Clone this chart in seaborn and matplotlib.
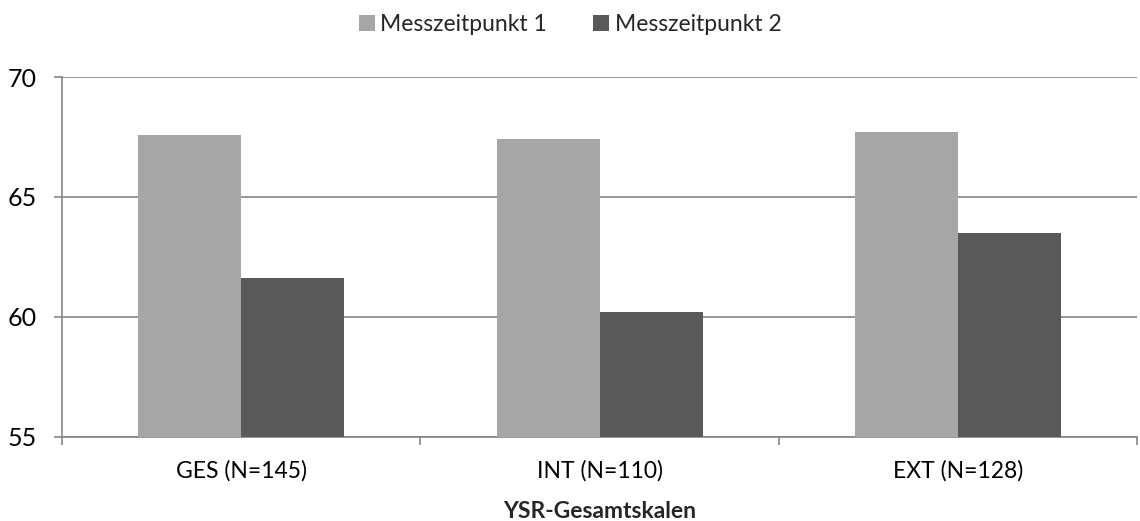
import matplotlib
matplotlib.use("Agg")
import matplotlib.pyplot as plt
import seaborn as sns
import pandas as pd
from matplotlib.patches import Patch

categories = ["GES (N=145)", "INT (N=110)", "EXT (N=128)"]
series_names = ["Messzeitpunkt 1", "Messzeitpunkt 2"]
mzp1 = [67.58, 67.42, 67.70]
mzp2 = [61.63, 60.20, 63.49]
y_ticks = [55, 60, 65, 70]
x_label = "YSR-Gesamtskalen"

sns.set_theme(style="white")
plt.rcParams['font.family'] = ['Lato', 'DejaVu Sans']

df = pd.DataFrame({
    "cat": categories * 2,
    "series": [series_names[0]] * 3 + [series_names[1]] * 3,
    "value": mzp1 + mzp2,
})

colors = ["#A6A6A6", "#595959"]
grid_c = "#868686"

fig = plt.figure(figsize=(11.4, 5.21), dpi=100)
ax = fig.add_axes([0.0544, 0.162, 0.9430, 0.690])

sns.barplot(data=df, x="cat", y="value", hue="series", palette=colors,
            width=0.575, gap=0, ax=ax, legend=False, saturation=1,
            edgecolor="none", linewidth=0, zorder=3)

ax.set_ylim(55, 70)
ax.set_xlim(-0.5, 2.5)
ax.set_yticks(y_ticks)
ax.yaxis.grid(True, color=grid_c, linewidth=1.2, zorder=0)
ax.set_axisbelow(True)
for s in ["top", "right"]:
    ax.spines[s].set_visible(False)
for s in ["left", "bottom"]:
    ax.spines[s].set_color(grid_c)
    ax.spines[s].set_linewidth(1.2)

ax.tick_params(axis="y", which="major", length=6, color=grid_c, width=1.2,
               labelsize=18, pad=12, left=True, labelcolor="black")
ax.tick_params(axis="x", which="major", length=0, labelsize=16.5, pad=17,
               labelcolor="black")
ax.set_xticks([-0.5, 0.5, 1.5, 2.5], minor=True)
ax.tick_params(axis="x", which="minor", length=6, color=grid_c, width=1.2,
               bottom=True, direction="out")

ax.set_xlabel(x_label, fontsize=16.5, fontweight="bold", labelpad=14)
ax.set_ylabel("")

handles = [Patch(facecolor=c, edgecolor="none") for c in colors]
fig.legend(handles, series_names, loc="upper center",
           bbox_to_anchor=(0.5, 1.0), ncol=2, frameon=False, fontsize=16.5,
           handlelength=0.7, handleheight=0.7, handletextpad=0.25,
           columnspacing=2.0, borderaxespad=0.2)

fig.savefig("out.png", dpi=100)
